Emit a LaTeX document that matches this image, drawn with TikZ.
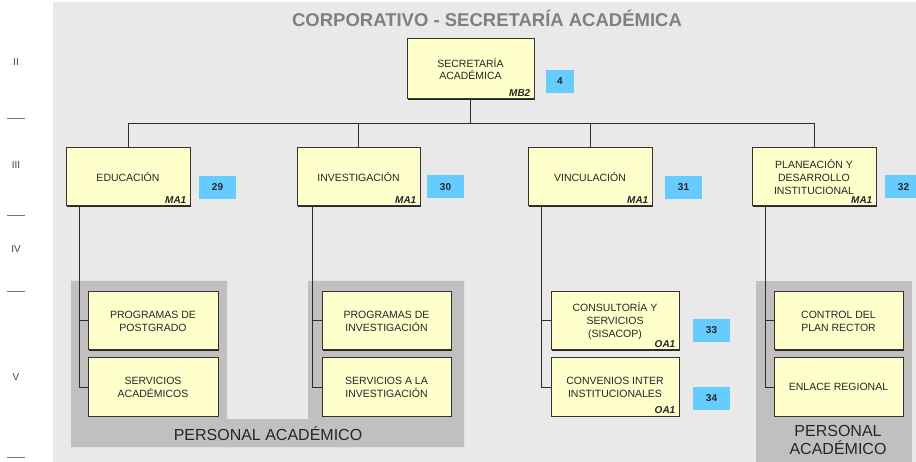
\documentclass[tikz,border=0pt]{standalone}
\usepackage{fontspec}
\setmainfont{Liberation Sans}
\usetikzlibrary{shadows}
\definecolor{bgc}{RGB}{233,233,233}
\definecolor{pac}{RGB}{192,192,192}
\definecolor{boxc}{RGB}{255,255,204}
\definecolor{bluec}{RGB}{102,204,255}
\definecolor{titc}{RGB}{128,128,128}
\definecolor{linec}{RGB}{45,45,45}
\tikzset{
  box/.style={draw=black!80, line width=1pt, fill=boxc, inner sep=0pt, align=center,
    font=\fontsize{10.5}{12.8}\selectfont, text=black!85,
    general shadow={fill=black!85, shadow xshift=1pt, shadow yshift=-1pt}},
  code/.style={font=\fontsize{10}{12}\selectfont\bfseries\itshape, inner sep=0pt, anchor=south east, text=black!85},
  numbox/.style={fill=bluec, inner sep=0pt, font=\fontsize{10}{12}\selectfont\bfseries, text=black!85},
  conn/.style={draw=linec, line width=1pt},
  lvl/.style={font=\fontsize{10}{12}\selectfont, text=black!75},
  lvlline/.style={draw=black!55, line width=0.6pt},
  patext/.style={font=\fontsize{16}{18.5}\selectfont, align=center, text=black!85}
}
\begin{document}
\begin{tikzpicture}[x=1pt,y=-1pt]
\useasboundingbox (0,0) rectangle (916,462);
\fill[bgc] (53,2) rectangle (916,462);
% personal academico areas
\fill[pac] (71,281) -- (227,281) -- (227,419) -- (308,419) -- (308,281) -- (464,281) -- (464,447) -- (71,447) -- cycle;
\fill[pac] (756,281) rectangle (912,462);
\node[patext] (pa1) at (268,434) {PERSONAL ACADÉMICO};
\node[patext] (pa2) at (838,440) {PERSONAL\\ACADÉMICO};
% title
\node[font=\fontsize{18.5}{20}\selectfont\bfseries, text=titc] (title) at (487,18) {CORPORATIVO - SECRETARÍA ACADÉMICA};
% levels
\node[lvl] (l2) at (16,62) {II};
\node[lvl] (l3) at (16,165) {III};
\node[lvl] (l4) at (16,249) {IV};
\node[lvl] (l5) at (16,377) {V};
\draw[lvlline] (7,118) -- (25,118);
\draw[lvlline] (7,215) -- (25,215);
\draw[lvlline] (7,291) -- (25,291);
\draw[lvlline] (7,457) -- (25,457);
\coordinate (bus) at (471,123.5);
% top box
\node[box, minimum width=127pt, minimum height=60pt] (sa) at (470.5,69) {SECRETARÍA\\ACADÉMICA};
\node[code] (sac) at ([shift={(-4pt,2.5pt)}]sa.south east) {MB2};
\node[numbox, minimum width=28pt, minimum height=23pt] (n4) at (560,81.5) {4};
% level III
\node[box, minimum width=124pt, minimum height=58pt] (edu) at (128,177) {EDUCACIÓN};
\node[box, minimum width=123pt, minimum height=58pt] (inv) at (358.5,177) {INVESTIGACIÓN};
\node[box, minimum width=124pt, minimum height=58pt] (vin) at (590,177) {VINCULACIÓN};
\node[box, minimum width=124pt, minimum height=58pt] (pla) at (814,177) {PLANEACIÓN Y\\DESARROLLO\\INSTITUCIONAL};
\foreach \b in {edu,inv,vin,pla}{\node[code] (\b c) at ([shift={(-4pt,2.5pt)}]\b.south east) {MA1};}
\node[numbox, minimum width=37pt, minimum height=23pt] (n29) at (217.5,187.5) {29};
\node[numbox, minimum width=37pt, minimum height=23pt] (n30) at (445.5,187) {30};
\node[numbox, minimum width=37pt, minimum height=23pt] (n31) at (683.5,187.5) {31};
\node[numbox, minimum width=37pt, minimum height=23pt] (n32) at (903.5,187) {32};
% level V
\node[box, minimum width=130pt, minimum height=58pt] (pp) at (153,321) {PROGRAMAS DE\\POSTGRADO};
\node[box, minimum width=130pt, minimum height=58pt] (sac2) at (153,387) {SERVICIOS\\ACADÉMICOS};
\node[box, minimum width=129pt, minimum height=58pt] (pi) at (386.5,321) {PROGRAMAS DE\\INVESTIGACIÓN};
\node[box, minimum width=129pt, minimum height=58pt] (si) at (386.5,387) {SERVICIOS A LA\\INVESTIGACIÓN};
\node[box, minimum width=128pt, minimum height=58pt] (cs) at (615,321) {CONSULTORÍA Y\\SERVICIOS\\(SISACOP)};
\node[box, minimum width=128pt, minimum height=58pt] (ci) at (615,387) {CONVENIOS INTER\\INSTITUCIONALES};
\foreach \b in {cs,ci}{\node[code] (\b c) at ([shift={(-4pt,2.5pt)}]\b.south east) {OA1};}
\node[numbox, minimum width=37pt, minimum height=23pt] (n33) at (711.5,330.5) {33};
\node[numbox, minimum width=37pt, minimum height=23pt] (n34) at (711.5,398.5) {34};
\node[box, minimum width=129pt, minimum height=58pt] (cp) at (838.5,321) {CONTROL DEL\\PLAN RECTOR};
\node[box, minimum width=129pt, minimum height=58pt] (er) at (838.5,387) {ENLACE REGIONAL};
% connectors
\draw[conn] (sa.south) -- (sa.south |- bus);
\draw[conn] (edu.north) |- (bus);
\draw[conn] (inv.north) |- (bus);
\draw[conn] (vin.north) |- (bus);
\draw[conn] (pla.north) |- (bus);
\draw[conn] ([xshift=14pt]edu.south west) |- (pp.west);
\draw[conn] ([xshift=14pt]edu.south west) |- (sac2.west);
\draw[conn] ([xshift=16pt]inv.south west) |- (pi.west);
\draw[conn] ([xshift=16pt]inv.south west) |- (si.west);
\draw[conn] ([xshift=14pt]vin.south west) |- (cs.west);
\draw[conn] ([xshift=14pt]vin.south west) |- (ci.west);
\draw[conn] ([xshift=14pt]pla.south west) |- (cp.west);
\draw[conn] ([xshift=14pt]pla.south west) |- (er.west);
\end{tikzpicture}
\end{document}
